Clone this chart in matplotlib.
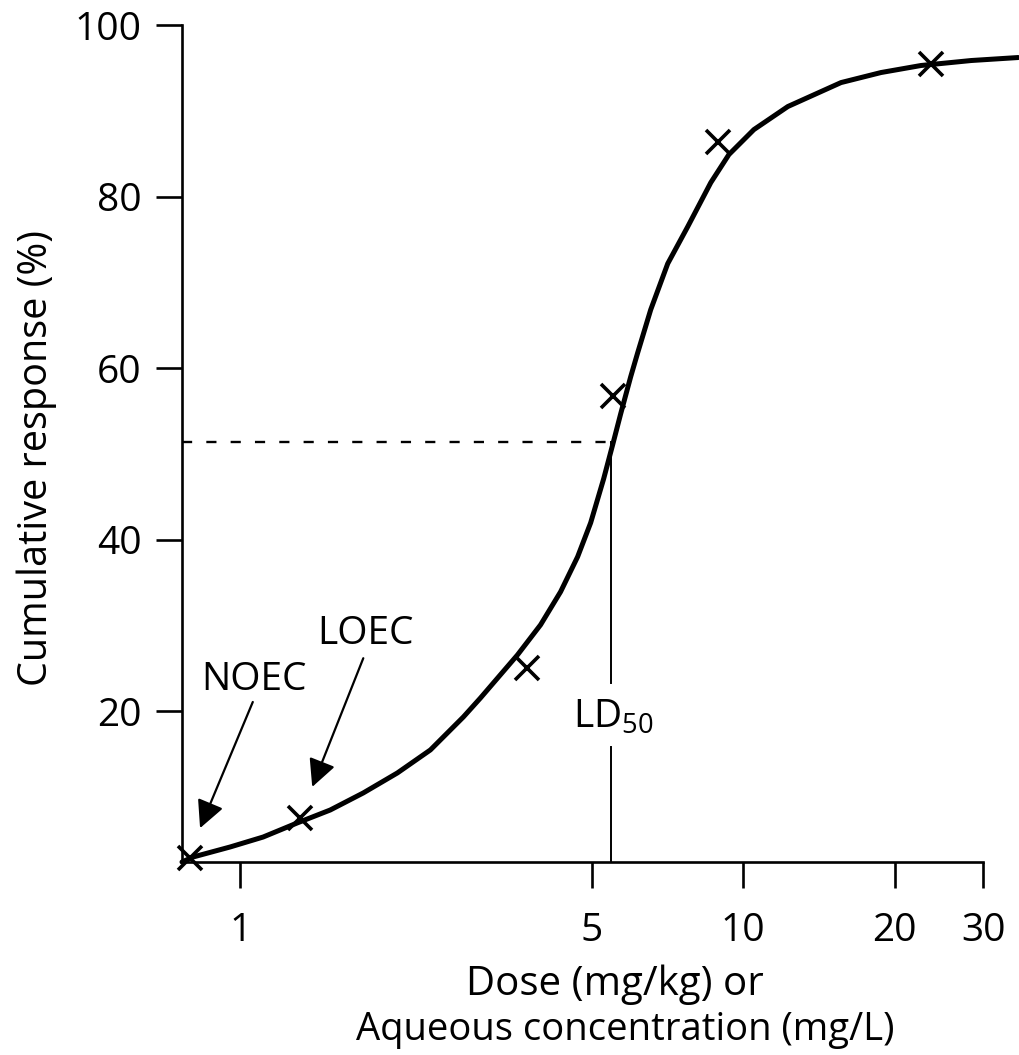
import matplotlib
matplotlib.use("Agg")
import matplotlib.pyplot as plt

plt.rcParams['font.family'] = ['Open Sans', 'DejaVu Sans']
plt.rcParams['mathtext.default'] = 'regular'

# Fitted dose-response curve
curve_dose = [0.765, 0.8046, 0.9536, 1.1092, 1.2965, 1.5084, 1.7550, 2.0516, 2.3863,
              2.7761, 3.0019, 3.5566, 3.9524, 4.3318, 4.6836, 4.9717, 5.2768, 5.4991,
              5.7050, 5.9727, 6.1674, 6.5459, 7.0766, 7.7561, 8.6190, 9.3640, 10.500,
              12.269, 15.650, 18.796, 22.576, 28.404, 35.234]
curve_resp = [2.45, 3.03, 4.20, 5.36, 7.00, 8.51, 10.50, 12.83, 15.51,
              19.36, 21.57, 26.59, 30.09, 33.94, 38.02, 41.98, 47.11, 51.08,
              54.69, 59.01, 61.81, 66.82, 72.19, 76.50, 81.63, 84.90, 87.81,
              90.50, 93.29, 94.46, 95.28, 95.86, 96.21]

# Observed data points
obs_dose = [0.794, 1.314, 3.72, 5.52, 8.9, 23.6]
obs_resp = [2.9, 7.6, 25.1, 56.8, 86.4, 95.4]

ld50_dose = 5.45
ld50_resp = 51.4

x_ticks = [1, 5, 10, 20, 30]
x_ticklabels = ['1', '5', '10', '20', '30']
y_ticks = [20, 40, 60, 80, 100]

W, H = 1019, 1055
fig = plt.figure(figsize=(W / 100, H / 100), dpi=100)
ax = fig.add_axes([182 / W, 1 - 862 / H, (1018 - 182) / W, (862 - 25) / H])

ax.set_xscale('log')
ax.set_xlim(0.765, 35.2)
ax.set_ylim(2.45, 100)

ax.plot(curve_dose, curve_resp, color='black', lw=3.6, solid_capstyle='round',
        solid_joinstyle='round', clip_on=False, zorder=3)
ax.plot(obs_dose, obs_resp, linestyle='none', marker='x', ms=17, mew=2.6,
        color='black', clip_on=False, zorder=4)

# LD50 guides
ax.plot([0.765, ld50_dose], [ld50_resp, ld50_resp], color='black', lw=1.7,
        dashes=(4.3, 6.0), zorder=2)
ax.plot([ld50_dose, ld50_dose], [ld50_resp, 23.3], color='black', lw=1.4, zorder=2)
ax.plot([ld50_dose, ld50_dose], [15.9, 2.45], color='black', lw=1.4, zorder=2)
ax.text(ld50_dose * 1.01, 19.3, r'LD$_{50}$', fontsize=28, ha='center', va='center')

arrow = dict(arrowstyle='-|>,head_length=0.4,head_width=0.2', mutation_scale=42,
             lw=1.6, color='black', shrinkA=0, shrinkB=0)
ax.annotate('', xy=(0.831, 6.4), xytext=(1.058, 21.1), arrowprops=arrow)
ax.annotate('', xy=(1.389, 11.2), xytext=(1.755, 26.2), arrowprops=arrow)
ax.text(1.065, 23.7, 'NOEC', fontsize=28, ha='center', va='center')
ax.text(1.775, 29.0, 'LOEC', fontsize=28, ha='center', va='center')

# Axes styling
for s in ['top', 'right']:
    ax.spines[s].set_visible(False)
ax.spines['left'].set_linewidth(1.9)
ax.spines['bottom'].set_linewidth(1.9)
ax.spines['bottom'].set_bounds(0.765, 30)
ax.spines['left'].set_bounds(2.45, 100)

ax.set_xticks(x_ticks)
ax.set_xticklabels(x_ticklabels)
ax.xaxis.set_minor_locator(matplotlib.ticker.NullLocator())
ax.set_yticks(y_ticks)
ax.tick_params(axis='both', which='major', direction='out', length=19, width=1.9,
               labelsize=28, color='black')
ax.tick_params(axis='x', pad=17)
ax.tick_params(axis='y', pad=10)

fig.text(37 / W, 1 - 458 / H, 'Cumulative response (%)', rotation=90,
         fontsize=28.5, ha='center', va='center')
fig.text(615 / W, 1 - 985 / H, 'Dose (mg/kg) or', fontsize=29, ha='center', va='center')
fig.text(625 / W, 1 - 1030 / H, 'Aqueous concentration (mg/L)', fontsize=27.5,
         ha='center', va='center')

fig.savefig('out.png', dpi=100, facecolor='white')
